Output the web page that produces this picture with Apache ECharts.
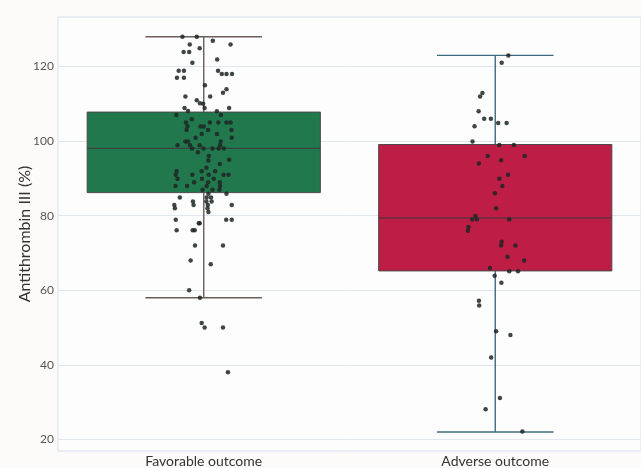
<!DOCTYPE html>
<html>
<head>
<meta charset="utf-8">
<script src="https://cdn.jsdelivr.net/npm/echarts@6/dist/echarts.min.js"></script>
<style>
html,body{margin:0;padding:0;background:#fcfbfa;}
#chart{width:641px;height:468px;}
</style>
</head>
<body>
<div id="chart"></div>
<script>
const categories = ['Favorable outcome', 'Adverse outcome'];
const yTicks = [20, 40, 60, 80, 100, 120];
// [lower whisker, Q1, median, Q3, upper whisker]
const favorableStats = [58, 86.2, 98.1, 107.8, 128];
const adverseStats = [22, 65.2, 79.4, 99.1, 123];

const favorableValues = [
  128.0, 128.0, 125.9, 126.9, 125.9, 124.9, 123.9, 123.9, 121.0, 121.9,
  118.9, 118.9, 118.9, 118.0, 118.0, 118.0, 117.0, 117.0, 115.0, 113.9,
  113.0, 112.0, 112.0, 111.0, 110.2, 110.0, 108.9, 108.9, 108.9, 108.1,
  108.0, 107.0, 107.0, 105.9, 105.0, 105.0, 105.0, 105.0, 105.0, 104.0,
  103.9, 103.9, 103.0, 103.0, 103.0, 101.9, 101.9, 100.9, 100.9, 99.9,
  99.9, 99.9, 98.9, 98.9, 98.9, 98.9, 98.0, 98.0, 98.0, 98.0,
  98.0, 97.0, 96.0, 95.0, 94.8, 93.9, 92.9, 91.9, 91.9, 91.9,
  91.0, 91.0, 91.0, 91.0, 91.0, 89.9, 89.9, 89.9, 89.0, 89.0,
  89.0, 88.0, 88.0, 88.0, 88.0, 87.0, 87.0, 87.0, 85.9, 85.9,
  84.9, 84.9, 84.9, 83.8, 83.8, 83.8, 82.9, 82.9, 82.9, 82.9,
  82.0, 82.0, 81.0, 78.9, 78.0, 78.0, 78.9, 78.9, 76.1, 76.1,
  76.1, 72.0, 72.0, 68.0, 67.0, 60.0, 58.0, 51.2, 50.0, 50.0,
  38.0
];
const favorableJitter = [
  -0.073, -0.024, -0.048, 0.031, 0.092, -0.014, -0.069, -0.050, -0.039, 0.046,
  -0.086, -0.068, 0.049, 0.062, 0.078, 0.097, -0.092, -0.068, 0.004, 0.078,
  0.066, -0.063, 0.022, -0.024, -0.013, -0.002, -0.066, 0.003, 0.087, -0.054,
  0.045, -0.094, 0.059, -0.041, -0.061, 0.021, 0.050, 0.078, 0.092, -0.056,
  -0.011, 0.000, -0.059, 0.015, 0.095, -0.007, 0.045, -0.028, 0.096, -0.063,
  -0.054, 0.058, -0.090, -0.047, -0.014, 0.056, -0.040, -0.001, 0.030, 0.051,
  0.069, -0.020, 0.017, 0.087, 0.016, 0.055, 0.009, -0.093, -0.007, 0.039,
  -0.096, -0.039, 0.017, 0.068, 0.085, -0.090, -0.006, 0.034, -0.033, 0.015,
  0.055, -0.097, -0.057, 0.010, 0.056, -0.004, 0.030, 0.054, 0.016, 0.078,
  -0.082, 0.010, 0.025, -0.037, 0.009, 0.027, -0.101, -0.035, 0.014, 0.096,
  -0.099, 0.013, 0.016, -0.096, -0.017, -0.014, 0.077, 0.096, -0.093, -0.038,
  -0.031, -0.030, 0.066, -0.045, 0.024, -0.050, -0.013, -0.007, 0.003, 0.066,
  0.083
];

const adverseValues = [
  123.0, 121.0, 112.9, 112.0, 108.0, 106.0, 106.0, 104.9, 104.9, 104.0,
  99.9, 99.0, 99.0, 96.0, 96.0, 94.0, 94.9, 91.0, 89.9, 88.0,
  86.0, 82.0, 79.9, 79.0, 79.0, 79.0, 77.0, 76.0, 73.0, 72.0,
  72.0, 69.0, 68.0, 66.0, 65.1, 65.1, 63.9, 62.0, 57.2, 55.9,
  49.0, 48.0, 42.0, 31.1, 28.1, 22.1
];
const adverseJitter = [
  0.045, 0.022, -0.044, -0.052, -0.057, -0.038, -0.015, 0.010, 0.039, -0.071,
  -0.078, 0.014, 0.064, -0.026, 0.101, -0.056, 0.020, 0.044, 0.014, 0.024,
  -0.001, 0.003, -0.068, -0.079, -0.063, 0.048, -0.092, -0.094, 0.022, 0.020,
  0.069, 0.042, 0.099, -0.018, 0.048, 0.078, -0.002, 0.021, -0.056, -0.055,
  0.003, 0.052, -0.014, 0.016, -0.033, 0.093
];

const boxFills = ['#22784d', '#be1d45'];
const whiskerColors = ['#6b5d58', '#3f6b7d'];

const chart = echarts.init(document.getElementById('chart'), null, {renderer: 'canvas'});

const boxData = [
  [0].concat(favorableStats),
  [1].concat(adverseStats)
];
const pointData = favorableValues.map((v, i) => [0 + favorableJitter[i], v])
  .concat(adverseValues.map((v, i) => [1 + adverseJitter[i], v]));

function renderBox(params, api) {
  const idx = api.value(0);
  const lo = api.coord([idx, api.value(1)]);
  const q1 = api.coord([idx, api.value(2)]);
  const med = api.coord([idx, api.value(3)]);
  const q3 = api.coord([idx, api.value(4)]);
  const hi = api.coord([idx, api.value(5)]);
  const band = api.size([1, 0])[0];
  const bw = band * 0.8;
  const cw = bw * 0.5;
  const x = lo[0];
  const wc = whiskerColors[idx];
  const children = [
    {type: 'line', shape: {x1: x, y1: hi[1], x2: x, y2: lo[1]}, style: {stroke: wc, lineWidth: 1.4}},
    {type: 'line', shape: {x1: x - cw / 2, y1: hi[1], x2: x + cw / 2, y2: hi[1]}, style: {stroke: wc, lineWidth: 1.4}},
    {type: 'line', shape: {x1: x - cw / 2, y1: lo[1], x2: x + cw / 2, y2: lo[1]}, style: {stroke: wc, lineWidth: 1.4}},
    {type: 'rect', shape: {x: x - bw / 2, y: q3[1], width: bw, height: q1[1] - q3[1]},
      style: {fill: boxFills[idx], stroke: '#4a4a4a', lineWidth: 1}},
    {type: 'line', shape: {x1: x - bw / 2, y1: med[1], x2: x + bw / 2, y2: med[1]}, style: {stroke: '#3a3a3a', lineWidth: 1}}
  ];
  return {type: 'group', children: children};
}

chart.setOption({
  backgroundColor: '#fcfbfa',
  animation: false,
  grid: {left: 58, right: 0, top: 17, bottom: 17, show: true, borderColor: '#d5e0ea', borderWidth: 1, backgroundColor: '#fdfdfd'},
  xAxis: [
    {
      type: 'category', data: categories, gridIndex: 0,
      axisLine: {show: false}, axisTick: {show: false},
      axisLabel: {color: '#333', fontSize: 14, fontFamily: 'Lato', margin: 3},
      splitLine: {show: false}
    },
    {
      type: 'value', min: -0.5, max: 1.5, gridIndex: 0, show: false
    }
  ],
  yAxis: {
    type: 'value', min: 16.9, max: 133.3,
    name: 'Antithrombin III (%)', nameLocation: 'middle', nameGap: 25, nameMoveOverlap: false,
    nameTextStyle: {color: '#333', fontSize: 16, fontFamily: 'Lato'},
    axisLine: {show: false},
    axisTick: {show: false, customValues: yTicks},
    axisLabel: {color: '#555', fontSize: 12, fontFamily: 'Lato', margin: 4, customValues: yTicks},
    splitLine: {show: true, lineStyle: {color: '#dfe6ee', width: 1}}
  },
  series: [
    {
      type: 'custom', xAxisIndex: 0, yAxisIndex: 0,
      renderItem: renderBox, data: boxData, z: 2,
      encode: {x: 0, y: [1, 2, 3, 4, 5]}
    },
    {
      type: 'scatter', xAxisIndex: 1, yAxisIndex: 0,
      data: pointData, symbolSize: 4.5, z: 5,
      itemStyle: {color: '#1d2626', opacity: 0.85}
    }
  ]
});
</script>
</body>
</html>
